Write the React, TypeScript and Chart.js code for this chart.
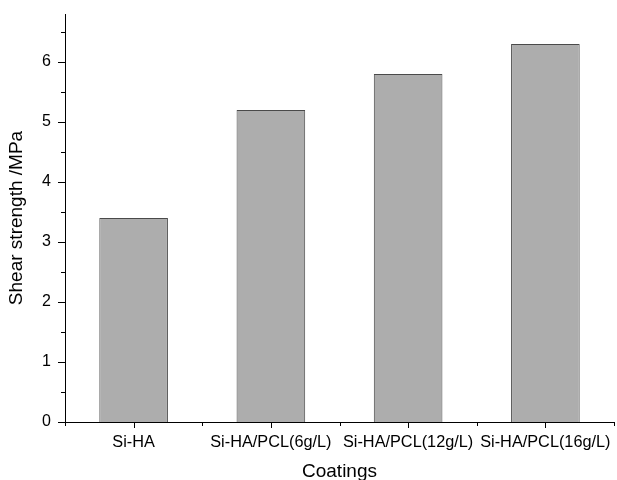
import React, { useEffect, useRef } from "react";
import { Chart, registerables } from "chart.js";

Chart.register(...registerables);

const categories = ["Si-HA", "Si-HA/PCL(6g/L)", "Si-HA/PCL(12g/L)", "Si-HA/PCL(16g/L)"];
const shearStrength = [3.4, 5.2, 5.8, 6.3];
const yTickValues = [0, 1, 2, 3, 4, 5, 6];
const yMinorValues = [0.5, 1.5, 2.5, 3.5, 4.5, 5.5, 6.5];
const yMin = 0;
const yMax = 6.8;

const FONT = "'Liberation Sans', Arial, Helvetica, sans-serif";

const tickPlugin = {
  id: "customTicks",
  afterDraw(chart: any) {
    const ctx = chart.ctx;
    const x = chart.scales.x;
    const y = chart.scales.y;
    const left = chart.chartArea.left;
    const bottom = chart.chartArea.bottom;
    ctx.save();
    ctx.strokeStyle = "#000";
    ctx.lineWidth = 1;
    ctx.beginPath();
    yTickValues.forEach((v) => {
      const py = Math.round(y.getPixelForValue(v)) + 0.5;
      ctx.moveTo(left - 7, py);
      ctx.lineTo(left, py);
    });
    yMinorValues.forEach((v) => {
      const py = Math.round(y.getPixelForValue(v)) + 0.5;
      ctx.moveTo(left - 4, py);
      ctx.lineTo(left, py);
    });
    categories.forEach((_, i) => {
      const px = Math.round(x.getPixelForValue(i)) + 0.5;
      ctx.moveTo(px, bottom);
      ctx.lineTo(px, bottom + 6);
    });
    for (let i = 0; i <= categories.length; i++) {
      const px = Math.round(x.getPixelForValue(i - 0.5)) + 0.5;
      ctx.moveTo(px, bottom);
      ctx.lineTo(px, bottom + 4);
    }
    ctx.stroke();
    ctx.restore();
  },
};

export default function App() {
  const ref = useRef<HTMLCanvasElement | null>(null);

  useEffect(() => {
    document.body.style.margin = "0";
    const canvas = ref.current;
    if (!canvas) return;
    const chart = new Chart(canvas, {
      type: "bar",
      data: {
        labels: categories,
        datasets: [
          {
            data: shearStrength,
            backgroundColor: "#adadad",
            borderColor: "#4a4a4a",
            borderWidth: 1,
            categoryPercentage: 1,
            barPercentage: 0.5,
          },
        ],
      },
      options: {
        responsive: false,
        animation: false,
        devicePixelRatio: 1,
        layout: { padding: { top: 14, right: 3, left: 0, bottom: 0 } },
        plugins: {
          legend: { display: false },
          tooltip: { enabled: false },
        },
        scales: {
          x: {
            grid: { display: false, drawTicks: false },
            border: { display: true, color: "#000", width: 1 },
            ticks: {
              color: "#000",
              font: { family: FONT, size: 16.3 },
              padding: 11,
              maxRotation: 0,
              autoSkip: false,
            },
            title: {
              display: true,
              text: "Coatings",
              color: "#000",
              font: { family: FONT, size: 19, lineHeight: 16 / 19 },
              padding: { top: 0, bottom: 0 },
            },
            afterFit(scale: any) {
              scale.height = 58;
              scale.paddingLeft = 0;
              scale.paddingRight = 0;
            },
          },
          y: {
            min: yMin,
            max: yMax,
            grid: { display: false, drawTicks: false },
            border: { display: true, color: "#000", width: 1 },
            ticks: {
              color: "#000",
              font: { family: FONT, size: 16 },
              padding: 14,
              stepSize: 1,
              includeBounds: false,
              callback: (v: any) => (Number.isInteger(v) ? String(v) : ""),
            },
            title: {
              display: true,
              text: "Shear strength /MPa",
              color: "#000",
              font: { family: FONT, size: 19, lineHeight: 16 / 19 },
              padding: { top: 9, bottom: 0 },
            },
            afterFit(scale: any) {
              scale.width = 65;
              scale.paddingTop = 0;
              scale.paddingBottom = 0;
            },
          },
        },
      },
      plugins: [tickPlugin],
    });
    return () => chart.destroy();
  }, []);

  return (
    <div style={{ width: 617, height: 480, background: "#fff" }}>
      <canvas ref={ref} width={617} height={480} style={{ width: 617, height: 480, display: "block" }} />
    </div>
  );
}
